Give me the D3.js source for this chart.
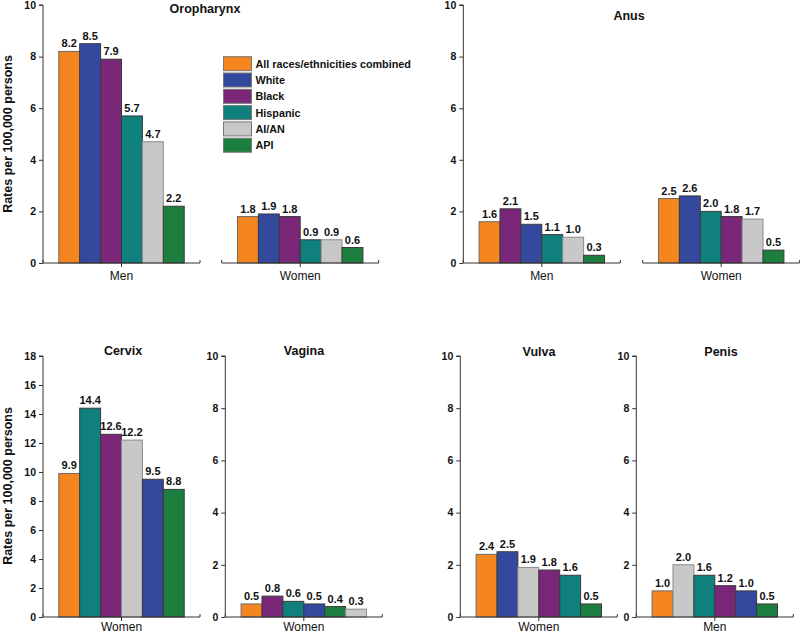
<!DOCTYPE html>
<html><head><meta charset="utf-8">
<script src="https://cdn.jsdelivr.net/npm/d3@7"></script>
<style>
body{margin:0;background:#fff;}
svg{display:block;font-family:"Liberation Sans",Arial,sans-serif;}
</style></head>
<body><svg id="chart" width="800" height="634"></svg>
<script>
// ---- data ----
const races = ["All races/ethnicities combined","White","Black","Hispanic","AI/AN","API"];
const yTicks10 = [0,2,4,6,8,10];
const yTicks18 = [0,2,4,6,8,10,12,14,16,18];
const yLabel = "Rates per 100,000 persons";
const panelTitles = ["Oropharynx","Anus","Cervix","Vagina","Vulva","Penis"];
const groupLabels = ["Men","Women","Men","Women","Women","Women","Women","Men"];
// values in races order
const oropharynxMen   = [8.2,8.5,7.9,5.7,4.7,2.2];
const oropharynxWomen = [1.8,1.9,1.8,0.9,0.9,0.6];
const anusMen         = [1.6,1.5,2.1,1.1,1.0,0.3];
const anusWomen       = [2.5,2.6,1.8,2.0,1.7,0.5];
const cervixWomen     = [9.9,9.5,12.6,14.4,12.2,8.8];
const vaginaWomen     = [0.5,0.5,0.8,0.6,0.3,0.4];
const vulvaWomen      = [2.4,2.5,1.8,1.6,1.9,0.5];
const penisMen        = [1.0,1.0,1.2,1.6,2.0,0.5];

// ---- styles ----
const color = d3.scaleOrdinal().domain(races)
  .range(["#F5851F","#34499D","#7B2779","#0F807C","#C8C8C8","#1C7F3F"]);
const strokeCol = d3.scaleOrdinal().domain(races)
  .range(["#6a6a6a","#3a3a3a","#3a3a3a","#3a3a3a","#8a8a8a","#3a3a3a"]);
const axisCol = "#333";

const svg = d3.select("#chart");

// sub-panel layout
const W = 157;
const subs = [
  {x0:43,    top:5,   bot:263, max:10, ticks:yTicks10, yaxis:true,  vals:oropharynxMen,   g:groupLabels[0], lo:17},
  {x0:221.7, top:5,   bot:263, max:10, ticks:yTicks10, yaxis:false, vals:oropharynxWomen, g:groupLabels[1], lo:17},
  {x0:463.3, top:5,   bot:263, max:10, ticks:yTicks10, yaxis:true,  vals:anusMen,         g:groupLabels[2], lo:17},
  {x0:642.7, top:5,   bot:263, max:10, ticks:yTicks10, yaxis:false, vals:anusWomen,       g:groupLabels[3], lo:17},
  {x0:43,    top:356, bot:617, max:18, ticks:yTicks18, yaxis:true,  vals:cervixWomen,     g:groupLabels[4], lo:13.5},
  {x0:225.3, top:356, bot:617, max:10, ticks:yTicks10, yaxis:true,  vals:vaginaWomen,     g:groupLabels[5], lo:13.5},
  {x0:460.3, top:356, bot:617, max:10, ticks:yTicks10, yaxis:true,  vals:vulvaWomen,      g:groupLabels[6], lo:13.5},
  {x0:636.3, top:356, bot:617, max:10, ticks:yTicks10, yaxis:true,  vals:penisMen,        g:groupLabels[7], lo:13.5}
];

subs.forEach(s => {
  const y = d3.scaleLinear().domain([0, s.max]).range([s.bot, s.top]);
  // order: All first, then descending (stable)
  const items = races.map((r,i)=>({race:r, v:s.vals[i], i}));
  const rest = items.slice(1).sort((a,b)=> (b.v - a.v) || (a.i - b.i));
  const ordered = [items[0]].concat(rest);
  const x = d3.scaleBand().domain(d3.range(6)).range([s.x0, s.x0 + W])
    .paddingInner(0).paddingOuter(0.755);
  const g = svg.append("g");

  if (s.yaxis) {
    const ya = g.append("g").attr("transform", `translate(${s.x0},0)`)
      .call(d3.axisLeft(y).tickValues(s.ticks).tickSize(4).tickPadding(3).tickFormat(d3.format("d")));
    ya.select(".domain").attr("stroke", axisCol).attr("d", `M-4,${s.top}H0V${s.bot}`).attr("stroke-width",1);
    ya.selectAll(".tick line").attr("stroke", axisCol);
    ya.selectAll(".tick text").attr("fill","#111").attr("font-size","10.5px").attr("font-weight","bold")
      .attr("font-family","'Liberation Sans',Arial,sans-serif");
  }

  // bars
  g.selectAll("rect.bar").data(ordered).enter().append("rect")
    .attr("x", (d,k)=> x(k))
    .attr("y", d=> y(d.v))
    .attr("width", x.bandwidth())
    .attr("height", d=> s.bot - y(d.v))
    .attr("fill", d=> color(d.race))
    .attr("stroke", d=> strokeCol(d.race))
    .attr("stroke-width", 1);

  // value labels
  g.selectAll("text.val").data(ordered).enter().append("text")
    .attr("x", (d,k)=> x(k) + x.bandwidth()/2)
    .attr("y", d=> y(d.v) - 4)
    .attr("text-anchor","middle")
    .attr("font-size","11px").attr("font-weight","bold").attr("fill","#111")
    .text(d=> d3.format(".1f")(d.v));

  // x axis segment
  const cx = s.x0 + W/2;
  g.append("path").attr("fill","none").attr("stroke",axisCol).attr("stroke-width",1)
    .attr("d", `M${s.x0},${s.bot-3}V${s.bot}H${s.x0+W}V${s.bot-3}M${cx},${s.bot}V${s.bot+4}`);
  g.append("text").attr("x", cx).attr("y", s.bot + s.lo)
    .attr("text-anchor","middle").attr("font-size","12px").attr("fill","#111").text(s.g);
});

// titles
const titlePos = [[205,13],[629,20],[123,355],[304,355],[539,356],[721,356]];
panelTitles.forEach((t,i)=>{
  svg.append("text").attr("x", titlePos[i][0]).attr("y", titlePos[i][1])
    .attr("text-anchor","middle").attr("font-size","12.5px").attr("font-weight","bold")
    .attr("fill","#111").text(t);
});

// y-axis labels
[[134],[486]].forEach(p=>{
  svg.append("text").attr("transform", `translate(11.5,${p[0]}) rotate(-90)`)
    .attr("text-anchor","middle").attr("font-size","12.5px").attr("font-weight","bold")
    .attr("fill","#111").text(yLabel);
});

// legend
const lg = svg.append("g").attr("transform","translate(223.5,56.7)");
races.forEach((r,i)=>{
  lg.append("rect").attr("x",0).attr("y", i*16.3).attr("width",28).attr("height",14)
    .attr("fill", color(r)).attr("stroke", "#777").attr("stroke-width",1);
  lg.append("text").attr("x", 32).attr("y", i*16.3 + 11.2)
    .attr("font-size","10.8px").attr("font-weight","bold").attr("fill","#111").text(r);
});
</script></body></html>
